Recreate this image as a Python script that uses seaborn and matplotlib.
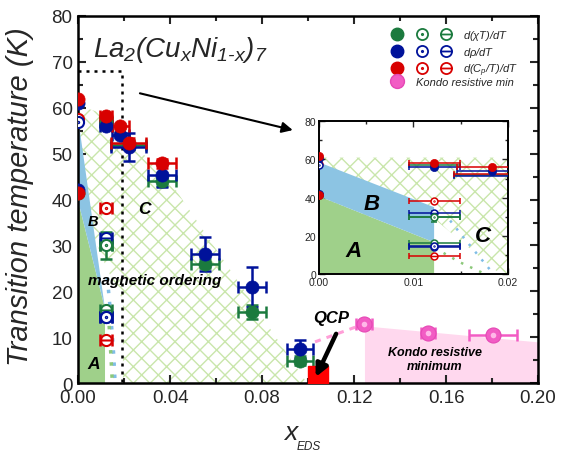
import numpy as np
import matplotlib
matplotlib.use('Agg')
import matplotlib.pyplot as plt
import seaborn as sns
from matplotlib.path import Path
from matplotlib.lines import Line2D
from matplotlib.legend_handler import HandlerTuple
from matplotlib.ticker import MultipleLocator, FormatStrFormatter

# ---------------- data ----------------
# filled symbols
green_f_x = [0.0, 0.0122, 0.022, 0.0365, 0.0552, 0.0757, 0.0965]
green_f_y = [41.5, 57.0, 52.0, 44.0, 26.0, 15.5, 4.9]
green_f_xerr = [0, 0.0027, 0.0077, 0.0059, 0.006, 0.006, 0.0057]
green_f_yerr = [0, 0, 1.0, 1.0, 1.0, 1.5, 1.0]

blue_f_x = [0.0, 0.0, 0.0122, 0.0183, 0.022, 0.0365, 0.0552, 0.0757, 0.0965]
blue_f_y = [61.0, 42.0, 56.0, 54.0, 51.5, 45.3, 28.2, 21.0, 7.4]
blue_f_xerr = [0, 0, 0.0027, 0.0037, 0.0077, 0.0059, 0.006, 0.006, 0.0057]
blue_f_yerr = [0, 0, 0, 0, 3.0, 2.5, 3.7, 4.3, 2.0]

red_f_x = [0.0, 0.0, 0.0122, 0.0183, 0.022, 0.0365]
red_f_y = [62.0, 41.5, 58.3, 56.0, 52.4, 47.9]
red_f_xerr = [0, 0, 0.0027, 0.0037, 0.0077, 0.0059]
red_f_yerr = [0, 0, 0, 0, 1.0, 1.0]

# open symbols (circle with dot)
red_o_x = [0.0, 0.0122]
red_o_y = [57.5, 38.2]
red_o_xerr = [0, 0.0027]
blue_o_x = [0.0, 0.0122]
blue_o_y = [57.0, 14.5]
blue_o_xerr = [0, 0.0027]
green_o_x = [0.0122]
green_o_y = [30.0]
green_o_xerr = [0.0027]
green_o_yerr = [3.0]

# crossed symbols (circle with bar)
green_c_x = [0.0122]
green_c_y = [16.0]
blue_c_x = [0.0122, 0.0122]
blue_c_y = [31.7, 14.4]
red_c_x = [0.0122]
red_c_y = [9.4]
cross_xerr = 0.0027

# Kondo resistive minimum
kondo_x = [0.1243, 0.152, 0.1804]
kondo_y = [12.9, 10.9, 10.5]
kondo_xerr = [0.0033, 0.003, 0.0105]

# QCP
qcp_x = [0.1043]
qcp_y = [1.5]

# regions (main)
A_x = [0.0, 0.0, 0.0117, 0.0117]
A_y = [0.0, 39.7, 16.2, 0.0]
B_x = [0.0, 0.0, 0.0117]
B_y = [57.7, 39.7, 16.2]
C_x = [0.0, 0.0122, 0.0183, 0.022, 0.0365, 0.0996, 0.0195, 0.0195, 0.0125, 0.0]
C_y = [60.5, 58.5, 55.5, 52.5, 46.5, 0.0, 0.0, 18.0, 25.0, 40.0]
kondo_reg_x = [0.1245, 0.2]
kondo_reg_y = [12.5, 9.0]
pink_line_x = [0.103, 0.1243]
pink_line_y = [9.0, 12.9]
bdot_x = [0.0127, 0.0138, 0.0148, 0.0155, 0.016]
bdot_y = [23.0, 17.0, 11.0, 6.0, 1.0]
gdot_x = [0.0135, 0.0142, 0.0148]
gdot_y = [12.5, 6.5, 0.8]

# regions (inset)
iA_x = [0.0, 0.0, 0.0122, 0.0122]
iA_y = [0.0, 40.7, 16.6, 0.0]
iB_x = [0.0, 0.0, 0.0122, 0.0122]
iB_y = [58.5, 40.7, 16.6, 35.0]
iC_x = [0.0, 0.021, 0.021, 0.0192, 0.0122, 0.0]
iC_y = [61.0, 61.0, 0.0, 0.0, 29.0, 29.0]
ibdot_x = [0.0139, 0.0155, 0.0170, 0.0185]
ibdot_y = [28.0, 18.0, 9.0, 0.0]
igdot_x = [0.0132, 0.0150, 0.0176]
igdot_y = [11.0, 6.0, 0.0]

# ---------------- style ----------------
sns.set_style('ticks')
plt.rcParams['font.family'] = ['Liberation Sans', 'DejaVu Sans']
plt.rcParams['mathtext.fontset'] = 'custom'
plt.rcParams['mathtext.rm'] = 'Liberation Sans:italic'
plt.rcParams['mathtext.it'] = 'Liberation Sans:italic'
plt.rcParams['mathtext.bf'] = 'Liberation Sans:italic:bold'
plt.rcParams['hatch.linewidth'] = 1.0

GREEN = '#1b7a3e'
BLUE = '#00129a'
RED = '#d80000'
PINK = '#f25cc4'
AREA_A = '#9fd08a'
AREA_B = '#8cc4e3'
HATCH = '#c9e6ab'
KONDO_AREA = '#ffd8ee'

dot_marker = Path.make_compound_path(Path.unit_circle(),
                                     Path.circle((0, 0), 0.12))
bar_marker = Path.make_compound_path(Path.unit_circle(),
                                     Path([(-1, 0), (1, 0)]))

fig = plt.figure(figsize=(5.66, 4.52), dpi=100)
ax = fig.add_axes([0.138, 0.150, 0.8127, 0.8124])
axi = fig.add_axes([0.5636, 0.3916, 0.3334, 0.3378])


def draw(a, inset=False):
    sc = 0.62 if inset else 1.0
    elw = 1.1 if inset else 1.8
    cap = 2.5 if inset else 4
    ms_f = 9.5 * sc
    ms_o = 8.0 * sc
    mew = 1.1 if inset else 1.5
    if inset:
        a.fill(iC_x, iC_y, facecolor='none', edgecolor=HATCH, hatch='xx', lw=0, zorder=0)
        a.fill(iA_x, iA_y, color=AREA_A, lw=0, zorder=1)
        a.fill(iB_x, iB_y, color=AREA_B, lw=0, zorder=1)
        a.plot(ibdot_x, ibdot_y, ls=(0, (1, 3)), color='#7fbde6', lw=1.8, zorder=1)
        a.plot(igdot_x, igdot_y, ls=(0, (1, 3)), color='#8cc87a', lw=1.8, zorder=1)
    else:
        a.fill(C_x, C_y, facecolor='none', edgecolor=HATCH, hatch='xx', lw=0, zorder=0)
        a.fill(A_x, A_y, color=AREA_A, lw=0, zorder=1)
        a.fill(B_x, B_y, color=AREA_B, lw=0, zorder=1)
        a.fill_between(kondo_reg_x, kondo_reg_y, 0, color=KONDO_AREA, lw=0, zorder=0)
        a.plot(pink_line_x, pink_line_y, ls=(0, (2, 2)), color='#ff9fd8', lw=2.2, zorder=1)
        a.plot(bdot_x, bdot_y, ls=(0, (1, 2.5)), color='#7fbde6', lw=2.5, zorder=1)
        a.plot(gdot_x, gdot_y, ls=(0, (1, 2.5)), color='#8cc87a', lw=2.5, zorder=1)

    eb = dict(fmt='none', elinewidth=elw, capsize=cap, capthick=elw, zorder=3)
    a.errorbar(green_f_x, green_f_y, xerr=green_f_xerr, yerr=green_f_yerr, ecolor=GREEN, **eb)
    a.errorbar(blue_f_x, blue_f_y, xerr=blue_f_xerr, yerr=blue_f_yerr, ecolor=BLUE, **eb)
    a.errorbar(red_f_x, red_f_y, xerr=red_f_xerr, yerr=red_f_yerr, ecolor=RED, **eb)

    # open & crossed symbols
    a.errorbar(green_o_x, green_o_y, xerr=green_o_xerr, yerr=green_o_yerr, ecolor=GREEN, **eb)
    for xs, ys, xe, col, mk in [
        (green_c_x, green_c_y, cross_xerr, GREEN, bar_marker),
        (blue_c_x, blue_c_y, cross_xerr, BLUE, bar_marker),
        (red_c_x, red_c_y, cross_xerr, RED, bar_marker),
        (red_o_x, red_o_y, red_o_xerr, RED, dot_marker),
        (blue_o_x, blue_o_y, blue_o_xerr, BLUE, dot_marker),
        (green_o_x, green_o_y, green_o_xerr, GREEN, dot_marker),
    ]:
        a.errorbar(xs, ys, xerr=xe, ecolor=col, **eb)
        a.plot(xs, ys, ls='none', marker=mk, ms=ms_o, mfc='white', mec=col,
               mew=mew, zorder=4)

    # filled symbols with seaborn
    s_f = ms_f ** 2
    sns.scatterplot(x=green_f_x, y=green_f_y, color=GREEN, s=s_f, edgecolor=GREEN,
                    linewidth=0.5, ax=a, zorder=5, legend=False)
    sns.scatterplot(x=blue_f_x, y=blue_f_y, color=BLUE, s=s_f, edgecolor=BLUE,
                    linewidth=0.5, ax=a, zorder=5, legend=False)
    sns.scatterplot(x=red_f_x, y=red_f_y, color=RED, s=s_f, edgecolor=RED,
                    linewidth=0.5, ax=a, zorder=5, legend=False)

    if not inset:
        a.errorbar(kondo_x, kondo_y, xerr=kondo_xerr, ecolor=PINK, **eb)
        sns.scatterplot(x=kondo_x, y=kondo_y, color=PINK, s=s_f * 1.3, edgecolor='#e548b5',
                        linewidth=0.8, ax=a, zorder=5, legend=False)
        sns.scatterplot(x=kondo_x, y=kondo_y, color='#ffb8e8', s=s_f * 0.18,
                        linewidth=0, ax=a, zorder=6, legend=False)
        a.plot(qcp_x, qcp_y, ls='none', marker='s', ms=14, mfc='#ff0000',
               mec='#ff0000', zorder=4)


draw(ax)
draw(axi, inset=True)

# ---------------- main axes ----------------
ax.set_xlim(0, 0.20)
ax.set_ylim(0, 80)
ax.xaxis.set_major_locator(MultipleLocator(0.04))
ax.xaxis.set_minor_locator(MultipleLocator(0.02))
ax.yaxis.set_major_locator(MultipleLocator(10))
ax.yaxis.set_minor_locator(MultipleLocator(5))
ax.xaxis.set_major_formatter(FormatStrFormatter('%.2f'))
ax.tick_params(which='both', direction='in', top=True, right=True, width=1.5)
ax.tick_params(which='major', length=6, labelsize=13.5, pad=4)
ax.tick_params(which='minor', length=3.5)
for sp in ax.spines.values():
    sp.set_linewidth(1.8)
    sp.set_color('black')
ax.set_ylabel('Transition temperature (K)', fontsize=21, style='italic')
ax.yaxis.set_label_coords(-0.095, 0.51)
fig.text(291 / 566, 1 - 440 / 452, 'x', fontsize=19, style='italic', ha='center', va='baseline')
fig.text(297 / 566, 1 - 450 / 452, 'EDS', fontsize=8.5, style='italic', ha='left', va='baseline')

ax.text(0.0065, 71.3, r'$La_2(Cu_xNi_{1\text{-}x})_7$', fontsize=20, va='baseline')

# dotted box and arrows
ax.plot([0, 0.019, 0.019], [68, 68, 0], ls=(0, (1.2, 2)), color='black', lw=1.8, zorder=2)
ax.annotate('', xy=(0.0945, 55.0), xytext=(0.0257, 63.3),
            arrowprops=dict(arrowstyle='-|>', color='black', lw=1.5, mutation_scale=16))
ax.annotate('', xy=(0.1028, 0.8), xytext=(0.1127, 11.3),
            arrowprops=dict(arrowstyle='-|>', color='black', lw=3.2, mutation_scale=18),
            zorder=7)

bi = dict(fontweight='bold', style='italic', color='black')
ax.text(0.0066, 35.4, 'B', fontsize=10.5, ha='center', va='center', **bi)
ax.text(0.0066, 4.2, 'A', fontsize=12.5, ha='center', va='center', **bi)
ax.text(0.029, 38.0, 'C', fontsize=12.5, ha='center', va='center', **bi)
ax.text(0.0335, 22.5, 'magnetic ordering', fontsize=11, ha='center', va='center', **bi)
ax.text(0.110, 14.4, 'QCP', fontsize=12, ha='center', va='center', **bi)
ax.text(0.155, 5.2, 'Kondo resistive\nminimum', fontsize=9, ha='center', va='center',
        linespacing=1.25, **bi)

# legend
ms_l = 9
def fh(c):
    return Line2D([], [], ls='none', marker='o', mfc=c, mec=c, ms=ms_l)
def oh(c, mk):
    return Line2D([], [], ls='none', marker=mk, mfc='white', mec=c, mew=1.3, ms=8)
handles = [
    (fh(GREEN), oh(GREEN, dot_marker), oh(GREEN, bar_marker)),
    (fh(BLUE), oh(BLUE, dot_marker), oh(BLUE, bar_marker)),
    (fh(RED), oh(RED, dot_marker), oh(RED, bar_marker)),
]
labels = [r'$d(\chi T)/dT$', r'$d\rho/dT$', r'$d(C_p/T)/dT$']
leg = ax.legend(handles, labels, handler_map={tuple: HandlerTuple(ndivide=None, pad=0)},
                loc='upper left', bbox_to_anchor=(0.667, 0.968), frameon=False,
                fontsize=8, handlelength=6.6, handletextpad=0.43, labelspacing=0.25,
                borderpad=0, borderaxespad=0)
for t in leg.get_texts():
    t.set_style('italic')
ax.add_artist(leg)
pink_h = Line2D([], [], ls='none', marker='o', mfc=PINK, mec='#e548b5', ms=10)
leg2 = ax.legend([pink_h], ['Kondo resistive min'], loc='upper left',
                 bbox_to_anchor=(0.6755, 0.834), frameon=False, fontsize=8,
                 handlelength=1.4, handletextpad=1.05, borderpad=0, borderaxespad=0)
for t in leg2.get_texts():
    t.set_style('italic')

# ---------------- inset ----------------
axi.set_xlim(0, 0.02)
axi.set_ylim(0, 80)
axi.xaxis.set_major_locator(MultipleLocator(0.01))
axi.xaxis.set_minor_locator(MultipleLocator(0.005))
axi.yaxis.set_major_locator(MultipleLocator(20))
axi.yaxis.set_minor_locator(MultipleLocator(10))
axi.xaxis.set_major_formatter(FormatStrFormatter('%.2f'))
axi.tick_params(which='both', direction='in', top=True, right=True, width=1.0)
axi.tick_params(which='major', length=4, labelsize=7.5, pad=2)
axi.tick_params(which='minor', length=2.5)
for sp in axi.spines.values():
    sp.set_linewidth(1.4)
    sp.set_color('black')
axi.set_facecolor('white')
axi.text(0.00558, 36.7, 'B', fontsize=16, ha='center', va='center', **bi)
axi.text(0.00364, 12.2, 'A', fontsize=16, ha='center', va='center', **bi)
axi.text(0.0174, 20.0, 'C', fontsize=16, ha='center', va='center', **bi)

fig.savefig('out.png', dpi=100)
